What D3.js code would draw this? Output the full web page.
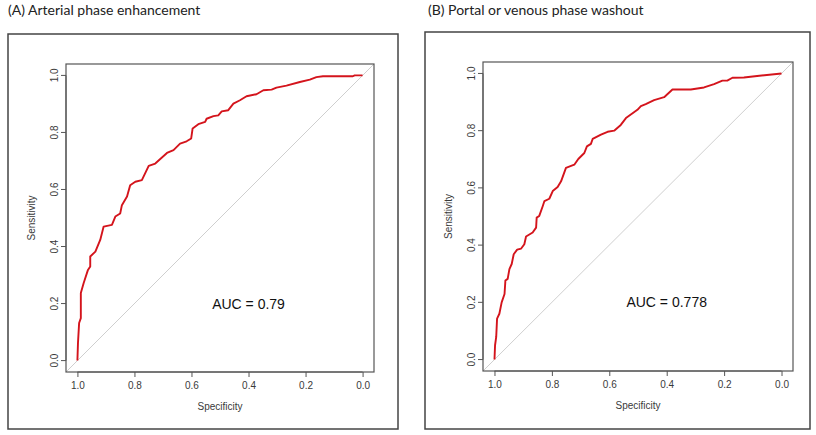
<!DOCTYPE html>
<html>
<head>
<meta charset="utf-8">
<script src="https://cdn.jsdelivr.net/npm/d3@7"></script>
<style>
  body { margin: 0; background: #fff; }
</style>
</head>
<body>
<div id="chart-area"></div>
<script>
// ROC points: specificity / sensitivity
var specA = [1.0, 0.998, 0.994, 0.988, 0.988, 0.978, 0.963, 0.955, 0.955, 0.937, 0.92, 0.908, 0.879, 0.867, 0.85, 0.844, 0.826, 0.815, 0.797, 0.774, 0.75, 0.727, 0.686, 0.663, 0.64, 0.617, 0.601, 0.596, 0.576, 0.552, 0.547, 0.523, 0.506, 0.494, 0.471, 0.453, 0.43, 0.407, 0.372, 0.348, 0.319, 0.302, 0.267, 0.22, 0.185, 0.162, 0.139, 0.034, 0.028, 0.0];
var sensA = [0.0, 0.062, 0.132, 0.149, 0.237, 0.272, 0.318, 0.33, 0.365, 0.382, 0.423, 0.47, 0.476, 0.505, 0.516, 0.545, 0.575, 0.615, 0.627, 0.633, 0.683, 0.691, 0.728, 0.738, 0.761, 0.769, 0.779, 0.814, 0.829, 0.837, 0.848, 0.857, 0.86, 0.874, 0.878, 0.901, 0.913, 0.927, 0.934, 0.948, 0.95, 0.957, 0.964, 0.977, 0.985, 0.994, 0.997, 0.997, 1.0, 1.0];

var specB = [1.0, 0.998, 0.994, 0.991, 0.983, 0.975, 0.965, 0.962, 0.954, 0.948, 0.94, 0.933, 0.921, 0.907, 0.896, 0.89, 0.867, 0.855, 0.853, 0.844, 0.832, 0.826, 0.809, 0.797, 0.78, 0.768, 0.751, 0.722, 0.708, 0.687, 0.678, 0.664, 0.658, 0.629, 0.606, 0.583, 0.56, 0.542, 0.502, 0.49, 0.473, 0.444, 0.409, 0.38, 0.316, 0.27, 0.235, 0.206, 0.189, 0.171, 0.131, 0.085, 0.0];
var sensB = [0.0, 0.05, 0.079, 0.143, 0.16, 0.2, 0.229, 0.276, 0.282, 0.316, 0.334, 0.368, 0.384, 0.388, 0.403, 0.43, 0.444, 0.461, 0.496, 0.502, 0.536, 0.554, 0.562, 0.589, 0.603, 0.623, 0.67, 0.681, 0.701, 0.722, 0.745, 0.754, 0.771, 0.786, 0.796, 0.8, 0.82, 0.844, 0.873, 0.886, 0.893, 0.907, 0.917, 0.944, 0.944, 0.951, 0.963, 0.975, 0.975, 0.985, 0.986, 0.991, 1.0];

var tickValues = [1.0, 0.8, 0.6, 0.4, 0.2, 0.0];
var titles = ["(A) Arterial phase enhancement", "(B) Portal or venous phase washout"];
var aucLabels = ["AUC = 0.79", "AUC = 0.778"];

var svg = d3.select("#chart-area").append("svg")
    .attr("width", 816)
    .attr("height", 435);

var panels = [
    {spec: specA, sens: sensA, title: titles[0], auc: aucLabels[0],
     titleX: 8, outer: [8, 34, 398, 429], box: [66, 64, 374, 372]},
    {spec: specB, sens: sensB, title: titles[1], auc: aucLabels[1],
     titleX: 428, outer: [425, 32, 810, 429], box: [483, 62, 793, 371]}
];

panels.forEach((p, i)=>{
    var g = svg.append("g");
    var b = p.box;

    g.append("text")
        .attr("x", p.titleX)
        .attr("y", 15)
        .attr("font-family", "Lato, 'Open Sans', sans-serif")
        .attr("font-size", 14)
        .attr("fill", "#222")
        .text(p.title);

    g.append("rect")
        .attr("x", p.outer[0])
        .attr("y", p.outer[1])
        .attr("width", p.outer[2]-p.outer[0])
        .attr("height", p.outer[3]-p.outer[1])
        .attr("fill", "none")
        .attr("stroke", "#444")
        .attr("stroke-width", 1.5);

    // R style: 4% padding around 0..1
    var x = d3.scaleLinear().domain([1.04, -0.04]).range([b[0], b[2]]);
    var y = d3.scaleLinear().domain([-0.04, 1.04]).range([b[3], b[1]]);

    var clipId = "clip"+i;
    g.append("clipPath").attr("id", clipId)
        .append("rect")
        .attr("x", b[0]).attr("y", b[1])
        .attr("width", b[2]-b[0]).attr("height", b[3]-b[1]);

    // chance diagonal
    g.append("line")
        .attr("clip-path", "url(#"+clipId+")")
        .attr("x1", x(1.04)).attr("y1", y(-0.04))
        .attr("x2", x(-0.04)).attr("y2", y(1.04))
        .attr("stroke", "#cfcfcf")
        .attr("stroke-width", 1);

    var pts = p.spec.map((s, k)=> [s, p.sens[k]]);
    var line = d3.line()
        .x((d)=> x(d[0]))
        .y((d)=> y(d[1]));

    g.append("path")
        .datum(pts)
        .attr("d", line)
        .attr("fill", "none")
        .attr("stroke", "#d4141c")
        .attr("stroke-width", 1.9)
        .attr("stroke-linejoin", "round");

    g.append("rect")
        .attr("x", b[0]).attr("y", b[1])
        .attr("width", b[2]-b[0]).attr("height", b[3]-b[1])
        .attr("fill", "none")
        .attr("stroke", "#555")
        .attr("stroke-width", 1.2);

    var fmt = d3.format(".1f");

    var xAxis = g.append("g")
        .attr("transform", "translate(0,"+b[3]+")")
        .call(d3.axisBottom(x).tickValues(tickValues).tickFormat(fmt).tickSize(5).tickPadding(5));
    var yAxis = g.append("g")
        .attr("transform", "translate("+b[0]+",0)")
        .call(d3.axisLeft(y).tickValues(tickValues).tickFormat(fmt).tickSize(5).tickPadding(6));

    [xAxis, yAxis].forEach((a)=>{
        a.select(".domain").remove();
        a.selectAll("line").attr("stroke", "#555");
        a.selectAll("text")
            .attr("font-family", "'Liberation Sans', Arial, sans-serif")
            .attr("font-size", 10)
            .attr("fill", "#3a3a3a");
    });
    // axis line only spanning 0..1 like R
    xAxis.append("line").attr("x1", x(1)).attr("x2", x(0)).attr("stroke", "#555");
    yAxis.append("line").attr("y1", y(0)).attr("y2", y(1)).attr("stroke", "#555");

    yAxis.selectAll("text")
        .attr("transform", (d)=> "rotate(-90,"+(-11)+","+y(d)+")")
        .attr("x", -11)
        .attr("y", y)
        .attr("dy", "0.35em")
        .attr("text-anchor", "middle");
    yAxis.selectAll(".tick").attr("transform", null);
    yAxis.selectAll(".tick line")
        .attr("y1", (d)=> y(d)).attr("y2", (d)=> y(d));

    g.append("text")
        .attr("x", (b[0]+b[2])/2)
        .attr("y", b[3]+38)
        .attr("text-anchor", "middle")
        .attr("font-family", "'Liberation Sans', Arial, sans-serif")
        .attr("font-size", 10)
        .attr("fill", "#3a3a3a")
        .text("Specificity");

    g.append("text")
        .attr("transform", "translate("+(b[0]-31)+","+((b[1]+b[3])/2)+") rotate(-90)")
        .attr("text-anchor", "middle")
        .attr("font-family", "'Liberation Sans', Arial, sans-serif")
        .attr("font-size", 10)
        .attr("fill", "#3a3a3a")
        .text("Sensitivity");

    g.append("text")
        .attr("x", x(0.4))
        .attr("y", y(0.2)+5)
        .attr("text-anchor", "middle")
        .attr("font-family", "'Liberation Sans', Arial, sans-serif")
        .attr("font-size", 14)
        .attr("fill", "#111")
        .text(p.auc);
});
</script>
</body>
</html>
